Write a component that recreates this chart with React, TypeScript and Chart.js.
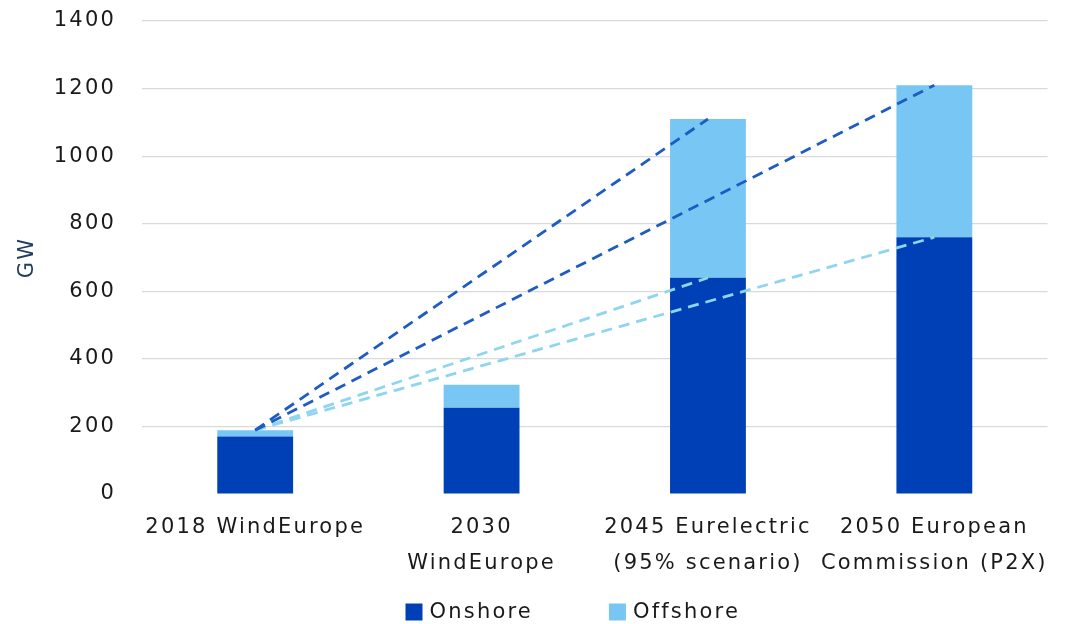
import React, { useEffect, useRef } from "react";
import { Chart, registerables } from "chart.js";

Chart.register(...registerables);

// Wind capacity scenarios for Europe (GW)
const categories: string[][] = [
  ["2018 WindEurope"],
  ["2030", "WindEurope"],
  ["2045 Eurelectric", "(95% scenario)"],
  ["2050 European", "Commission (P2X)"],
];
const onshoreGW = [170, 255, 640, 760];
const offshoreGW = [19, 68, 470, 450];
const yTickValues = [0, 200, 400, 600, 800, 1000, 1200, 1400];

// Growth paths from today's total capacity to a later scenario (target index, which part)
const pathTargets = [2, 3, 2, 3];
const pathParts = ["total", "total", "onshore", "onshore"];

const ONSHORE_COLOR = "#0040b6";
const OFFSHORE_COLOR = "#78c6f4";
const PATH_DARK = "#1d5cc2";
const PATH_LIGHT = "#8fd5f0";
const FONT_FAMILY = '"DejaVu Sans", sans-serif';
const FONT_SIZE = 21;
const LETTER_SPACING = "2.2px";

const totals = onshoreGW.map((v, i) => v + offshoreGW[i]);

const spacingPlugin = {
  id: "letterSpacing",
  beforeUpdate(chart: any) {
    chart.ctx.letterSpacing = LETTER_SPACING;
  },
  beforeLayout(chart: any) {
    chart.ctx.letterSpacing = LETTER_SPACING;
  },
  beforeDraw(chart: any) {
    chart.ctx.letterSpacing = LETTER_SPACING;
  },
};

// Legend row under the axis labels, built from the bar datasets
const bottomLegend = {
  id: "bottomLegend",
  afterDraw(chart: any) {
    const ctx = chart.ctx as CanvasRenderingContext2D;
    const items = chart.data.datasets.filter((d: any) => d.type === "bar");
    ctx.save();
    ctx.font = `${FONT_SIZE}px ${FONT_FAMILY}`;
    (ctx as any).letterSpacing = LETTER_SPACING;
    ctx.textBaseline = "middle";
    ctx.textAlign = "left";
    const box = 17;
    const boxGap = 7;
    const itemGap = 76;
    const widths = items.map((d: any) => box + boxGap + ctx.measureText(d.label).width);
    const total = widths.reduce((a: number, b: number) => a + b, 0) + itemGap * (items.length - 1);
    const area = chart.chartArea;
    let x = (area.left + area.right) / 2 - 22 - total / 2;
    const y = 612;
    items.forEach((d: any, i: number) => {
      ctx.fillStyle = d.backgroundColor;
      ctx.fillRect(x, y - box / 2, box, box);
      ctx.fillStyle = "#1a1a1a";
      ctx.fillText(d.label, x + box + boxGap, y + 1);
      x += widths[i] + itemGap;
    });
    ctx.restore();
  },
};

export default function App() {
  const canvasRef = useRef<HTMLCanvasElement | null>(null);

  useEffect(() => {
    if (!canvasRef.current) return;

    const pathDatasets = pathTargets.map((target, p) => {
      const source = pathParts[p] === "total" ? totals : onshoreGW;
      return {
        type: "line" as const,
        label: `path-${p}`,
        data: categories.map((_, i) => (i === 0 ? totals[0] : i === target ? source[target] : null)),
        borderColor: pathParts[p] === "total" ? PATH_DARK : PATH_LIGHT,
        borderWidth: 2.8,
        borderDash: [11, 7],
        pointRadius: 0,
        spanGaps: true,
        fill: false,
        stack: `path-${p}`,
        order: 0,
      };
    });

    const chart = new Chart(canvasRef.current, {
      data: {
        labels: categories,
        datasets: [
          ...pathDatasets,
          {
            type: "bar" as const,
            label: "Onshore",
            data: onshoreGW,
            backgroundColor: ONSHORE_COLOR,
            stack: "wind",
            order: 1,
            categoryPercentage: 1,
            barPercentage: 0.335,
          },
          {
            type: "bar" as const,
            label: "Offshore",
            data: offshoreGW,
            backgroundColor: OFFSHORE_COLOR,
            stack: "wind",
            order: 1,
            categoryPercentage: 1,
            barPercentage: 0.335,
          },
        ] as any,
      },
      options: {
        animation: false,
        responsive: true,
        maintainAspectRatio: false,
        layout: { autoPadding: false, padding: { top: 21, right: 18, bottom: 26, left: 0 } },
        plugins: {
          legend: { display: false },
          tooltip: { enabled: false },
        },
        scales: {
          x: {
            stacked: true,
            border: { display: false },
            grid: { display: false, drawTicks: false },
            ticks: {
              color: "#1a1a1a",
              padding: 16,
              maxRotation: 0,
              autoSkip: false,
              font: { family: FONT_FAMILY, size: FONT_SIZE, lineHeight: 36 / FONT_SIZE },
            },
          },
          y: {
            stacked: true,
            min: 0,
            max: 1400,
            border: { display: false },
            afterFit(scale: any) {
              scale.width = 142;
              scale.paddingTop = 0;
              scale.paddingBottom = 0;
            },
            afterBuildTicks(scale: any) {
              scale.ticks = yTickValues.map((v) => ({ value: v }));
            },
            grid: {
              drawTicks: false,
              color: (c: any) => (c.tick && c.tick.value === 0 ? "rgba(0,0,0,0)" : "#d9d9d9"),
              lineWidth: 1.2,
            },
            ticks: {
              color: "#1a1a1a",
              padding: 26,
              callback: (v: any) => String(v),
              font: { family: FONT_FAMILY, size: FONT_SIZE, lineHeight: 1.2 },
            },
            title: {
              display: true,
              text: "GW",
              color: "#1e3d60",
              padding: { top: 15, bottom: 0 },
              font: { family: FONT_FAMILY, size: FONT_SIZE, lineHeight: 1.2 },
            },
          },
        },
      },
      plugins: [spacingPlugin, bottomLegend],
    });

    return () => chart.destroy();
  }, []);

  return (
    <div style={{ position: "fixed", left: 0, top: 0, width: 1066, height: 624, background: "#ffffff" }}>
      <canvas ref={canvasRef} />
    </div>
  );
}
